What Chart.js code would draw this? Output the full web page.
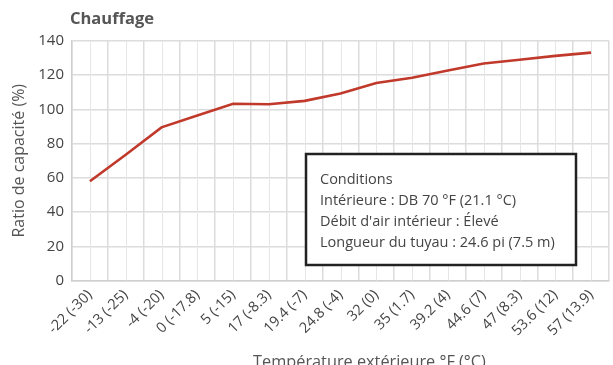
<!DOCTYPE html>
<html>
<head>
<meta charset="utf-8">
<script src="https://cdn.jsdelivr.net/npm/chart.js@4/dist/chart.umd.min.js"></script>
<style>
  html, body { margin: 0; padding: 0; overflow: hidden; background: #fff; }
  #wrap { position: relative; width: 613px; height: 365px; }
</style>
</head>
<body>
<div id="wrap"><canvas id="c"></canvas></div>
<script>
// Heating capacity ratio against outdoor temperature
const chartTitle = 'Chauffage';
const temperatureLabels = [
  '-22 (-30)', '-13 (-25)', '-4 (-20)', '0 (-17.8)', '5 (-15)', '17 (-8.3)',
  '19.4 (-7)', '24.8 (-4)', '32 (0)', '35 (1.7)', '39.2 (4)', '44.6 (7)',
  '47 (8.3)', '53.6 (12)', '57 (13.9)'
];
const capacityRatio = [58, 73.5, 89.5, 96.5, 103.3, 103, 105, 109.3, 115.5, 118.5, 122.7, 126.8, 129, 131.3, 133.2];
const yMin = 0, yMax = 140, yStep = 20;
const yAxisTitle = 'Ratio de capacité (%)';
const xAxisTitle = 'Température extérieure °F (°C)';
const conditionLines = [
  'Conditions',
  'Intérieure : DB 70 °F (21.1 °C)',
  "Débit d'air intérieur : Élevé",
  'Longueur du tuyau : 24.6 pi (7.5 m)'
];

const FONT = '"Open Sans", "Noto Sans", sans-serif';
const GRID = '#dcdcdc';

// Title, mid-category grid lines, x axis title and the conditions box
const decorations = {
  id: 'decorations',
  beforeDatasetsDraw(chart) {
    const { ctx, chartArea: a, scales: { x } } = chart;
    ctx.save();
    ctx.strokeStyle = '#e6e6e6';
    ctx.lineWidth = 1;
    for (let i = 0; i < temperatureLabels.length; i++) {
      const px = Math.round(x.getPixelForValue(i)) + 0.5;
      ctx.beginPath();
      ctx.moveTo(px, a.top);
      ctx.lineTo(px, a.bottom);
      ctx.stroke();
    }
    ctx.restore();
  },
  afterDraw(chart) {
    const { ctx, chartArea: a } = chart;
    ctx.save();
    ctx.fillStyle = '#555';
    ctx.font = 'bold 16.5px ' + FONT;
    ctx.textBaseline = 'alphabetic';
    ctx.textAlign = 'left';
    ctx.fillText(chartTitle, a.left - 2, 23.5);

    ctx.font = '16.3px ' + FONT;
    ctx.textAlign = 'center';
    ctx.fillText(xAxisTitle, (a.left + a.right) / 2 + 29, 367);

    const bx = a.left + 234, by = a.top + 113, bw = 270, bh = 111;
    ctx.fillStyle = '#fff';
    ctx.fillRect(bx, by, bw, bh);
    ctx.strokeStyle = '#222';
    ctx.lineWidth = 2.5;
    ctx.strokeRect(bx, by, bw, bh);
    ctx.fillStyle = '#444';
    ctx.font = '14.5px ' + FONT;
    ctx.textAlign = 'left';
    ctx.textBaseline = 'middle';
    conditionLines.forEach((t, i) => ctx.fillText(t, bx + 14, by + 26 + i * 21));
    ctx.restore();
  }
};

new Chart(document.getElementById('c'), {
  type: 'line',
  data: {
    labels: temperatureLabels,
    datasets: [{
      data: capacityRatio,
      borderColor: '#c0392b',
      borderWidth: 2.6,
      pointRadius: 0,
      tension: 0,
      fill: false
    }]
  },
  options: {
    responsive: true,
    maintainAspectRatio: false,
    animation: false,
    layout: { padding: { top: 41, right: 4, left: 0, bottom: 0 } },
    plugins: { legend: { display: false }, title: { display: false }, tooltip: { enabled: false } },
    scales: {
      x: {
        offset: true,
        afterFit(scale) { scale.height = 84.5; },
        grid: { offset: true, color: GRID, lineWidth: 1.5, drawTicks: false },
        border: { color: '#cfcfcf', width: 1.5 },
        ticks: {
          color: '#444', font: { family: FONT, size: 14.5 },
          maxRotation: 45, minRotation: 45, padding: 6, autoSkip: false
        },
        title: { display: false }
      },
      y: {
        min: yMin, max: yMax,
        afterFit(scale) { scale.width = 72; },
        grid: { color: GRID, lineWidth: 1.5, drawTicks: false },
        border: { color: '#cfcfcf', width: 1.5 },
        ticks: { stepSize: yStep, color: '#444', font: { family: FONT, size: 15 }, padding: 8 },
        title: { display: true, text: yAxisTitle, color: '#555', font: { family: FONT, size: 16 }, padding: { top: 10, bottom: 0 } }
      }
    }
  },
  plugins: [decorations]
});
</script>
</body>
</html>
